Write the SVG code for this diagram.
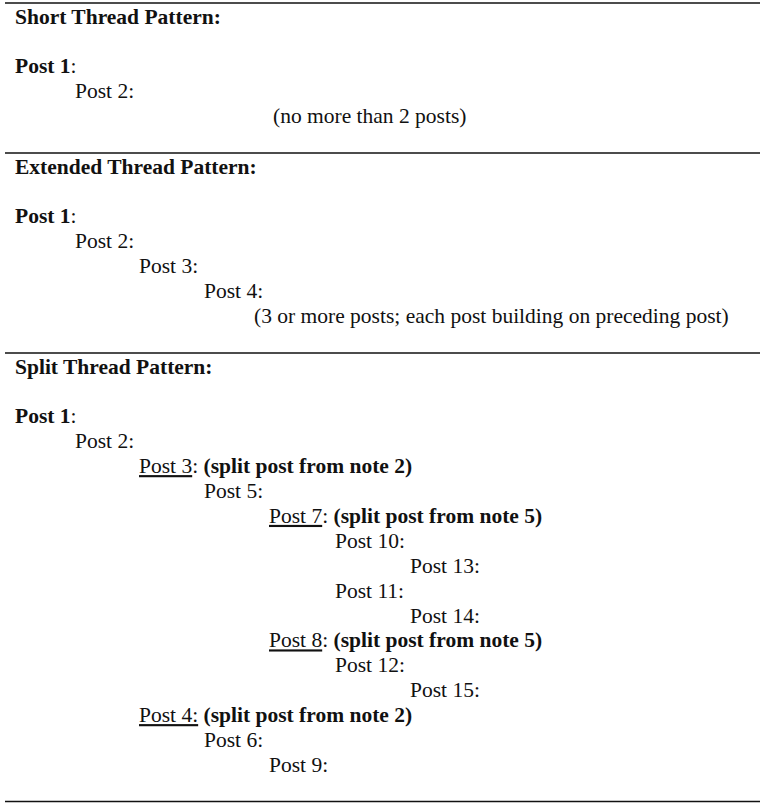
<svg xmlns="http://www.w3.org/2000/svg" width="763" height="804" viewBox="0 0 763 804">
<style>
text{font-family:"Liberation Serif","Times New Roman",serif;font-size:21.5px;fill:#111}
.b{font-weight:bold}
.u{text-decoration:underline}
.rule{stroke:#111;stroke-width:1.3}
</style>
<rect width="763" height="804" fill="#fff"/>
<g id="short">
<line class="rule" x1="5" y1="3" x2="760" y2="3"/>
<text x="15" y="23.5" class="b">Short Thread Pattern:</text>
<text x="15" y="73.3"><tspan class="b">Post 1</tspan>:</text>
<text x="75" y="98.2">Post 2:</text>
<text x="273" y="123.1">(no more than 2 posts)</text>
</g>
<g id="extended">
<line class="rule" x1="5" y1="153" x2="760" y2="153"/>
<text x="15" y="173.5" class="b">Extended Thread Pattern:</text>
<text x="15" y="223.3"><tspan class="b">Post 1</tspan>:</text>
<text x="75" y="248.2">Post 2:</text>
<text x="139" y="273.1">Post 3:</text>
<text x="204" y="298">Post 4:</text>
<text x="254" y="322.9">(3 or more posts; each post building on preceding post)</text>
</g>
<g id="split">
<line class="rule" x1="5" y1="353" x2="760" y2="353"/>
<text x="15" y="373.5" class="b">Split Thread Pattern:</text>
<text x="15" y="423.3"><tspan class="b">Post 1</tspan>:</text>
<text x="75" y="448.2">Post 2:</text>
<text x="139" y="473.1"><tspan class="u">Post 3</tspan>: <tspan class="b">(split post from note 2)</tspan></text>
<text x="204" y="498">Post 5:</text>
<text x="269" y="522.9"><tspan class="u">Post 7</tspan>: <tspan class="b">(split post from note 5)</tspan></text>
<text x="335" y="547.8">Post 10:</text>
<text x="410" y="572.7">Post 13:</text>
<text x="335" y="597.6">Post 11:</text>
<text x="410" y="622.5">Post 14:</text>
<text x="269" y="647.4"><tspan class="u">Post 8</tspan>: <tspan class="b">(split post from note 5)</tspan></text>
<text x="335" y="672.3">Post 12:</text>
<text x="410" y="697.2">Post 15:</text>
<text x="139" y="722.1"><tspan class="u">Post 4:</tspan> <tspan class="b">(split post from note 2)</tspan></text>
<text x="204" y="747">Post 6:</text>
<text x="269" y="771.9">Post 9:</text>
<line class="rule" x1="5" y1="801.5" x2="760" y2="801.5"/>
</g>
</svg>
